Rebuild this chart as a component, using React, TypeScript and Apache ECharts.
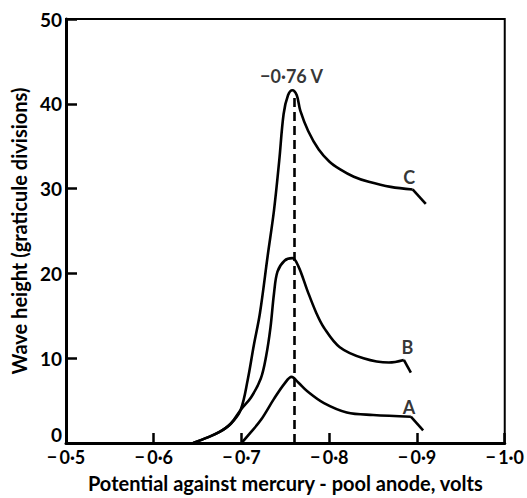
import React, { useEffect, useRef } from 'react';
import * as echarts from 'echarts';

const FONT = 'Lato, "Open Sans", "DejaVu Sans", sans-serif';

// Curve C (largest wave)
const curveC: [number, number][] = [
  [-0.645, 0], [-0.66, 0.6], [-0.675, 1.3], [-0.688, 2.3], [-0.699, 3.9],
  [-0.707, 7.4], [-0.714, 11.5], [-0.721, 15.3], [-0.73, 22.2], [-0.737, 27.4],
  [-0.743, 33.3], [-0.748, 38.8], [-0.753, 41.0], [-0.758, 41.6], [-0.763, 41.0],
  [-0.767, 39.2], [-0.776, 36.8], [-0.788, 34.6], [-0.8, 33.2], [-0.812, 32.3],
  [-0.828, 31.4], [-0.845, 30.8], [-0.87, 30.2], [-0.895, 29.9],
];
const hookC: [number, number][] = [[-0.895, 29.9], [-0.91, 28.2]];

// Curve B
const curveB: [number, number][] = [
  [-0.645, 0], [-0.66, 0.6], [-0.675, 1.3], [-0.688, 2.3], [-0.699, 3.9],
  [-0.711, 5.4], [-0.722, 7.6], [-0.728, 10.2], [-0.733, 13.6], [-0.737, 17.6],
  [-0.741, 20.2], [-0.749, 21.5], [-0.758, 21.8], [-0.765, 20.8], [-0.775, 18.0],
  [-0.785, 15.4], [-0.794, 13.6], [-0.812, 11.3], [-0.839, 10.0], [-0.868, 9.5],
  [-0.885, 9.8],
];
const hookB: [number, number][] = [[-0.885, 9.8], [-0.893, 8.3]];

// Curve A
const curveA: [number, number][] = [
  [-0.70, 0], [-0.71, 1.2], [-0.722, 2.7], [-0.737, 5.2], [-0.749, 7.0],
  [-0.757, 7.8], [-0.765, 7.1], [-0.775, 6.1], [-0.794, 4.7], [-0.82, 3.6],
  [-0.85, 3.3], [-0.893, 3.1],
];
const hookA: [number, number][] = [[-0.893, 3.1], [-0.907, 1.5]];

const peakPotential = -0.76;
const peakLineTop = 41.3;

const curveNames = ['C', 'B', 'A'];
const curveLabelCoords: [number, number][] = [[-0.891, 31.4], [-0.889, 11.3], [-0.891, 4.3]];
const peakLabel = '−0·76 V';
const peakLabelCoord: [number, number] = [-0.757, 43.3];

const yAxisTitle = 'Wave height (graticule divisions)';
const xAxisTitle = 'Potential against mercury - pool anode, volts';

const fmtX = (v: number) => '−\u2009' + Math.abs(v).toFixed(1).replace('.', '·');

export default function App() {
  const ref = useRef<HTMLDivElement>(null);
  useEffect(() => {
    if (!ref.current) return;
    const chart = echarts.init(ref.current, undefined, { renderer: 'svg' });
    const lineStyle = { color: '#000', width: 2.6 };
    const textStyle = { color: '#000', fontFamily: FONT, fontWeight: 'bold' as const };
    const curve = (data: [number, number][], smooth: number | boolean, z = 3) => ({
      type: 'line', data, smooth, symbol: 'none', lineStyle, z, silent: true,
    });
    chart.setOption({
      animation: false,
      backgroundColor: '#fff',
      grid: { left: 66, right: 17, top: 19, bottom: 55, show: true, borderColor: '#000', borderWidth: 2 },
      xAxis: {
        type: 'value', min: -1, max: -0.5, interval: 0.1, inverse: true,
        name: xAxisTitle, nameLocation: 'middle', nameGap: 30,
        nameTextStyle: { ...textStyle, fontSize: 20 },
        axisLine: { show: true, lineStyle: { color: '#000', width: 3 } },
        axisTick: { show: true, inside: true, length: 10, lineStyle: { color: '#000', width: 2.5 } },
        axisLabel: { ...textStyle, fontSize: 18, margin: 5, formatter: fmtX },
        splitLine: { show: false },
      },
      yAxis: {
        type: 'value', min: 0, max: 50, interval: 10,
        name: yAxisTitle, nameLocation: 'middle', nameGap: 36,
        nameTextStyle: { ...textStyle, fontSize: 20 },
        axisLine: { show: true, lineStyle: { color: '#000', width: 3 } },
        axisTick: { show: true, inside: true, length: 11, lineStyle: { color: '#000', width: 2.5 } },
        axisLabel: {
          ...textStyle, fontSize: 19, margin: 4,
          formatter: (v: number) => (v === 0 ? '{z|0}' : String(v)),
          rich: { z: { ...textStyle, fontSize: 19, lineHeight: 17, padding: [0, 0, 17, 0] } },
        },
        splitLine: { show: false },
      },
      series: [
        {
          ...curve(curveC, 0.35),
          markLine: {
            silent: true, symbol: ['none', 'none'], label: { show: false },
            lineStyle: { color: '#000', width: 2.6, type: [9, 5] },
            data: [[{ coord: [peakPotential, 0] }, { coord: [peakPotential, peakLineTop] }]],
          },
        },
        curve(hookC, false),
        curve(curveB, 0.35),
        curve(hookB, false),
        curve(curveA, 0.35),
        curve(hookA, false),
        {
          type: 'scatter', symbolSize: 0, silent: true, z: 5,
          data: [
            ...curveNames.map((n, i) => ({ name: n, value: curveLabelCoords[i] })),
            { name: peakLabel, value: peakLabelCoord },
          ],
          label: {
            show: true, position: 'inside', formatter: (p: any) => p.name,
            ...textStyle, fontSize: 18,
          },
        },
      ],
    });
    return () => chart.dispose();
  }, []);
  return <div ref={ref} style={{ position: 'fixed', left: 0, top: 0, width: 527, height: 498 }} />;
}
